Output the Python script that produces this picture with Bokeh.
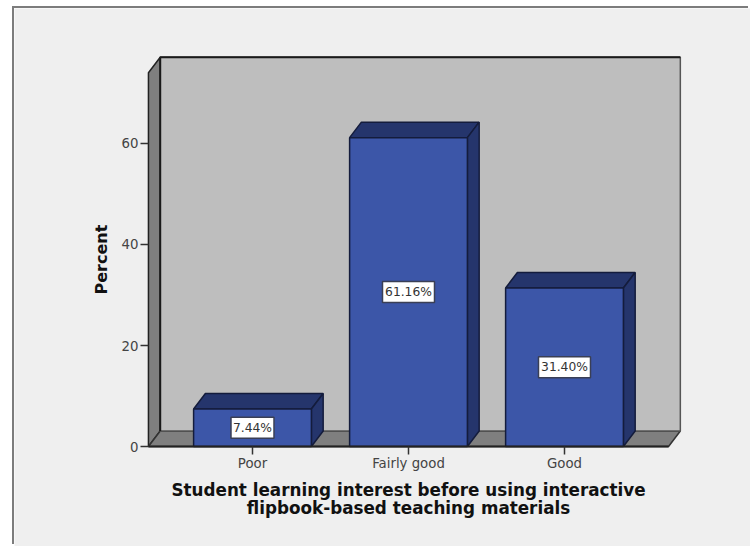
from math import pi
from bokeh.plotting import figure
from bokeh.embed import file_html
from bokeh.resources import INLINE
from bokeh.models import Range1d, FixedTicker, Label
from bokeh.core.properties import value

categories = ["Poor", "Fairly good", "Good"]
percents = [7.44, 61.16, 31.40]
labels = ["7.44%", "61.16%", "31.40%"]
y_ticks = [0, 20, 40, 60]
x_label = "Student learning interest before using interactive\nflipbook-based teaching materials"
y_label = "Percent"

# 3D look of the chart, in axis units
DX, DY = 0.0755, 3.07
BAR_W = 0.755
X0, X1 = -0.667, 2.667
Y_TOP = 74.0
positions = list(range(len(categories)))

# The frame fills the whole figure, because Bokeh clips to the frame whatever
# is placed in data coordinates; the axes are pinned inside it.
p = figure(width=736, height=538, output_backend="svg", toolbar_location=None,
           margin=(8, 0, 0, 14),
           styles={"box-shadow": "-2px -2px 0 #7C7C7C"},
           x_range=Range1d(-1.5256, 3.1923), y_range=Range1d(-19.80, 86.73),
           min_border_left=0, min_border_right=0, min_border_top=0, min_border_bottom=0,
           border_fill_color="#EFEFEF", background_fill_color="#EFEFEF", outline_line_color=None)
p.grid.visible = False

# walls
p.patch([X0, X0 + DX, X0 + DX, X0], [0, DY, Y_TOP + DY, Y_TOP],
        fill_color="#7F7F7F", line_color="#222222", line_width=1.5)
p.patch([X0, X0 + DX, X1 + DX, X1], [0, DY, DY, 0],
        fill_color="#7F7F7F", line_color="#333333", line_width=1.5)
p.patch([X0 + DX, X1 + DX, X1 + DX, X0 + DX], [DY, DY, Y_TOP + DY, Y_TOP + DY],
        fill_color="#BEBEBE", line_color="#555555", line_width=1.5)
p.line([X0 + DX, X0 + DX, X1 + DX], [DY, Y_TOP + DY, Y_TOP + DY], line_color="#1A1A1A", line_width=2)

# bars
for x, v in zip(positions, percents):
    l, r = x - BAR_W / 2, x + BAR_W / 2
    p.patch([l, l + DX, r + DX, r], [v, v + DY, v + DY, v],
            fill_color="#25356C", line_color="#141C3C", line_width=1.5)
    p.patch([r, r + DX, r + DX, r], [0, DY, v + DY, v],
            fill_color="#25356C", line_color="#141C3C", line_width=1.5)
    p.quad(left=l, right=r, bottom=0, top=v,
           fill_color="#3C56A8", line_color="#141C3C", line_width=1.5)

p.line([X0, X1], [0, 0], line_color="#222222", line_width=2)

# value labels
mids = [v / 2 for v in percents]
p.rect(positions, mids, width=[43, 52, 52], height=21,
       width_units="screen", height_units="screen",
       fill_color="#FFFFFF", line_color="#3A3F55", line_width=1.5)
p.text(positions, mids, text=labels, text_align="center", text_baseline="middle",
       text_font=value("DejaVu Sans"), text_font_size="12.3px", text_color="#333333")

for ax in (p.xaxis[0], p.yaxis[0]):
    ax.axis_line_color = None
    ax.major_tick_in = 0
    ax.major_tick_out = 8
    ax.minor_tick_in = 0
    ax.minor_tick_out = 0
    ax.major_tick_line_color = "#333333"
    ax.major_tick_line_width = 1.5
    ax.major_label_text_font = "DejaVu Sans"
    ax.major_label_text_font_size = "13.3px"
    ax.major_label_text_color = "#444444"

p.xaxis[0].fixed_location = 0
p.xaxis[0].ticker = FixedTicker(ticks=positions)
p.xaxis[0].major_label_overrides = {i: c for i, c in enumerate(categories)}
p.xaxis[0].major_label_standoff = 1
p.yaxis[0].fixed_location = X0
p.yaxis[0].ticker = FixedTicker(ticks=y_ticks)
p.yaxis[0].major_label_standoff = 2

# axis titles
p.add_layout(Label(x=(positions[0] + positions[-1]) / 2, y=-6.7, text=x_label,
                   text_align="center", text_baseline="top",
                   text_font="DejaVu Sans", text_font_style="bold", text_font_size="16.8px",
                   text_color="#111111", text_line_height=0.9))
p.add_layout(Label(x=X0 - 0.3, y=Y_TOP / 2, text=y_label, angle=pi / 2,
                   text_align="center", text_baseline="middle",
                   text_font="DejaVu Sans", text_font_style="bold", text_font_size="16px",
                   text_color="#111111"))

open("out.html", "w").write(file_html(p, INLINE))
